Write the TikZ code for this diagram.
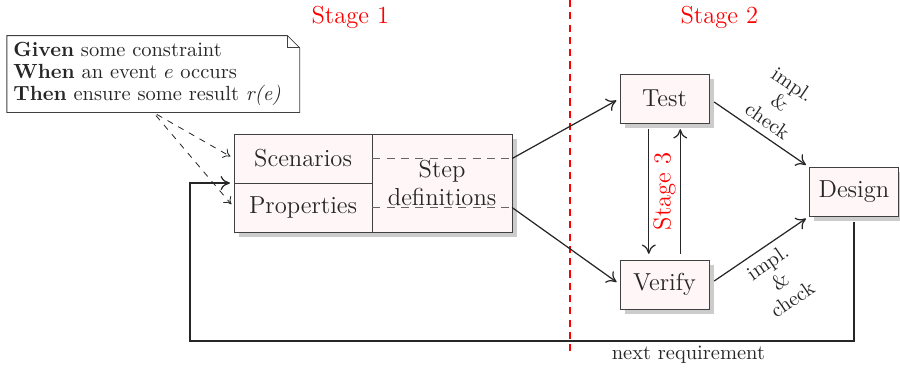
\documentclass[tikz,border=0pt]{standalone}
\usetikzlibrary{arrows.meta, positioning, calc, shadows}

\begin{document}
\begin{tikzpicture}[
    every node/.style={font=\normalsize\linespread{0.9}\selectfont, text=black!85},
    box/.style={
        rectangle,
        draw=black!75,
        thin,
        fill=red!3,
        font=\large,
        align=center,
        inner sep=2pt,
        outer sep=0pt,
        drop shadow={shadow xshift=2.4pt, shadow yshift=-2.4pt, fill=black!40, opacity=0.5}
    },
    cell/.style={
        box,
        minimum width=2.37cm,
        minimum height=0.84cm
    },
    stepbox/.style={
        box,
        minimum width=2.40cm,
        minimum height=1.68cm
    },
    phase/.style={
        box,
        minimum width=1.53cm,
        minimum height=0.84cm
    },
    notebox/.style={
        rectangle,
        align=left,
        text width=4.8cm,
        inner xsep=3pt,
        inner ysep=3pt,
        minimum height=1.24cm
    },
    stagelabel/.style={
        text=red,
        font=\large
    },
    arrow/.style={
        semithick,
        -{To[length=1.6mm, width=2.4mm]},
        draw=black!85,
        shorten >=2pt
    },
    hint/.style={
        thin,
        dashed,
        -{To[length=1.2mm, width=1.8mm]},
        draw=black!85,
        shorten <=2pt,
        shorten >=2pt
    }
]

\useasboundingbox (0,0) rectangle (15.44,-6.35);

% Stage headings
\node[stagelabel] (stage1) at (6.01,-0.29) {Stage 1};
\node[stagelabel] (stage2) at (12.34,-0.29) {Stage 2};

% Stage separator
\coordinate (septop) at (9.78,0);
\coordinate (sepbot) at (9.78,-6.04);
\draw[red, semithick, dash pattern=on 3.5pt off 2.5pt] (septop) -- (sepbot);

% Given/When/Then note
\node[notebox] (note) at (2.63,-1.27) {
    \textbf{Given} some constraint \\
    \textbf{When} an event $e$ occurs \\
    \textbf{Then} ensure some result \textit{r(e)}
};
\draw[draw=black!75] (note.south west) -- (note.north west)
    -- ([xshift=-0.21cm]note.north east) -- ([yshift=-0.21cm]note.north east)
    -- (note.south east) -- cycle;
\draw[draw=black!75] ([xshift=-0.21cm]note.north east) |- ([yshift=-0.21cm]note.north east);

% Scenarios, properties and step definitions
\node[cell] (scen) at (5.20,-2.72) {Scenarios};
\node[cell, below=0pt of scen] (prop) {Properties};
\node[stepbox, anchor=north west] (step) at (scen.north east) {Step\\definitions};

\coordinate (scenout) at (scen.east -| step.east);
\coordinate (propout) at (prop.east -| step.east);
\draw[draw=black!60, dash pattern=on 4pt off 3pt] (scen.east) -- (scenout);
\draw[draw=black!60, dash pattern=on 4pt off 3pt] (prop.east) -- (propout);

\draw[hint] (note.south) -- (scen.west);
\draw[hint] (note.south) -- (prop.west);

% Test, verify and design
\node[phase] (test) at (11.40,-1.69) {Test};
\node[phase, below=2.35cm of test] (verify) {Verify};
\node[phase] (design) at (14.65,-3.29) {Design};

% Main flow arrows
\draw[arrow] (scenout) -- (test.west);
\draw[arrow] (propout) -- (verify.west);
\draw[arrow, shorten <=3pt] (test.east) -- (design.north west)
    node[midway, sloped, above, align=center] {impl.\\\&\\check};
\draw[arrow, shorten <=3pt] (verify.east) -- (design.south west)
    node[midway, sloped, below, align=center] {impl.\\\&\\check};

% Stage 3 loop between test and verify
\draw[arrow, shorten <=3pt, shorten >=3pt] ([xshift=-0.27cm]test.south) -- ([xshift=-0.27cm]verify.north);
\draw[arrow, shorten <=3pt, shorten >=3pt] ([xshift=0.27cm]verify.north) -- ([xshift=0.27cm]test.south);
\node[stagelabel, rotate=90] (stage3) at ($(test.south)!0.5!(verify.north)$) {Stage 3};

% Feedback to the next requirement
\coordinate (back) at (3.26,-5.85);
\draw[arrow, shorten <=3pt] (design.south) |- (back) |- (scen.south west);
\node (nextreq) at (11.81,-6.09) {next requirement};

\end{tikzpicture}
\end{document}
